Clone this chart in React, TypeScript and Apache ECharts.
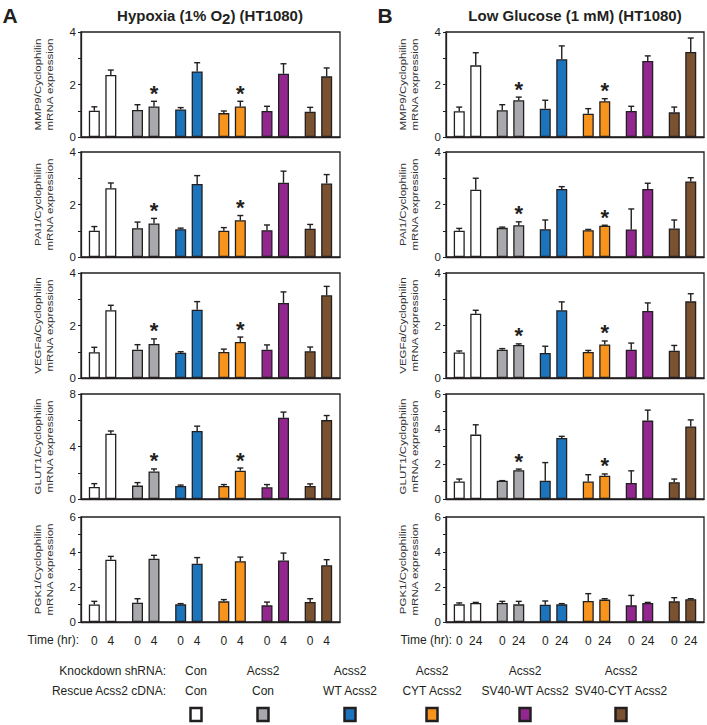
import React, { useEffect, useRef } from 'react';
import * as echarts from 'echarts';

// ---------- DATA ----------
const groups = ['Con/Con', 'Acss2/Con', 'Acss2/WT Acss2', 'Acss2/CYT Acss2', 'Acss2/SV40-WT Acss2', 'Acss2/SV40-CYT Acss2'];
const knockdown = ['Con', 'Acss2', 'Acss2', 'Acss2', 'Acss2', 'Acss2'];
const rescue = ['Con', 'Con', 'WT Acss2', 'CYT Acss2', 'SV40-WT Acss2', 'SV40-CYT Acss2'];
const genes = ['MMP9', 'PAI1', 'VEGFa', 'GLUT1', 'PGK1'];
const hypoxiaTimes = ['0', '4'];
const glucoseTimes = ['0', '24'];
const hypoxiaMax = [4, 4, 4, 8, 6];
const glucoseMax = [4, 4, 4, 6, 6];
const starGroups = [1, 3];
const starGenes = [0, 1, 2, 3];

// Hypoxia (1% O2): mean and error-bar top, time 0 / time 4
const hypMean0 = [
  [1.0, 1.03, 1.05, 0.91, 0.99, 0.96],
  [1.0, 1.1, 1.06, 1.0, 1.02, 1.08],
  [0.98, 1.08, 0.96, 0.99, 1.08, 1.02],
  [0.92, 1.02, 1.0, 1.0, 0.9, 1.0],
  [1.0, 1.1, 1.01, 1.18, 0.95, 1.14],
];
const hypTop0 = [
  [1.15, 1.23, 1.12, 0.99, 1.17, 1.13],
  [1.16, 1.33, 1.1, 1.12, 1.22, 1.24],
  [1.17, 1.27, 1.0, 1.1, 1.26, 1.18],
  [1.17, 1.25, 1.06, 1.1, 1.1, 1.15],
  [1.18, 1.33, 1.05, 1.28, 1.14, 1.33],
];
const hypMeanT = [
  [2.36, 1.16, 2.5, 1.16, 2.41, 2.31],
  [2.62, 1.28, 2.78, 1.4, 2.83, 2.8],
  [2.58, 1.3, 2.6, 1.37, 2.86, 3.15],
  [4.98, 2.1, 5.18, 2.16, 6.19, 6.01],
  [3.56, 3.62, 3.33, 3.47, 3.52, 3.24],
];
const hypTopT = [
  [2.55, 1.36, 2.83, 1.36, 2.79, 2.63],
  [2.82, 1.47, 3.1, 1.58, 3.27, 3.14],
  [2.77, 1.49, 2.91, 1.56, 3.28, 3.49],
  [5.18, 2.29, 5.55, 2.36, 6.62, 6.36],
  [3.75, 3.81, 3.68, 3.71, 3.94, 3.56],
];

// Low glucose (1 mM): mean and error-bar top, time 0 / time 24
const gluMean0 = [
  [0.98, 1.02, 1.08, 0.89, 0.99, 0.94],
  [1.0, 1.11, 1.06, 1.02, 1.05, 1.09],
  [0.97, 1.08, 0.95, 0.99, 1.08, 1.04],
  [1.0, 1.05, 1.05, 1.0, 0.92, 0.96],
  [1.01, 1.09, 0.99, 1.2, 0.95, 1.18],
];
const gluTop0 = [
  [1.14, 1.23, 1.4, 1.08, 1.17, 1.14],
  [1.09, 1.14, 1.41, 1.05, 1.83, 1.41],
  [1.03, 1.12, 1.21, 1.05, 1.33, 1.24],
  [1.14, 1.05, 2.08, 1.39, 1.61, 1.14],
  [1.09, 1.18, 1.2, 1.62, 1.52, 1.39],
];
const gluMeanT = [
  [2.73, 1.4, 2.96, 1.36, 2.9, 3.24],
  [2.56, 1.21, 2.59, 1.19, 2.59, 2.88],
  [2.45, 1.26, 2.58, 1.28, 2.55, 2.92],
  [3.68, 1.65, 3.49, 1.33, 4.48, 4.15],
  [1.09, 1.01, 1.01, 1.28, 1.09, 1.3],
];
const gluTopT = [
  [3.21, 1.52, 3.47, 1.46, 3.09, 3.77],
  [3.0, 1.34, 2.68, 1.21, 2.81, 3.02],
  [2.58, 1.3, 2.9, 1.41, 2.86, 3.21],
  [4.24, 1.71, 3.58, 1.43, 5.08, 4.52],
  [1.12, 1.18, 1.05, 1.33, 1.12, 1.33],
];

// ---------- STYLE ----------
const colors = ['#ffffff', '#a7a9ac', '#1c75bc', '#f7941d', '#92278f', '#7a5230'];
const ink = '#231f20';
const FONT = '"Liberation Sans", Arial, Helvetica, sans-serif';
const BAR_W = 11;
const BAR_GAP = 0.5;
const OFFSET = (BAR_W + BAR_W * BAR_GAP) / 2;
const colLeft = [81, 446];
const colWidth = [259, 258];
const rowTop = [32, 152, 273, 394, 517];
const rowHeight = 105;
const nameX = [44, 409];

function buildOption() {
  const grid: any[] = [];
  const xAxis: any[] = [];
  const yAxis: any[] = [];
  const series: any[] = [];
  const graphic: any[] = [];
  const panels = [
    { mean0: hypMean0, top0: hypTop0, meanT: hypMeanT, topT: hypTopT, max: hypoxiaMax, times: hypoxiaTimes },
    { mean0: gluMean0, top0: gluTop0, meanT: gluMeanT, topT: gluTopT, max: glucoseMax, times: glucoseTimes },
  ];
  panels.forEach((p, col) => {
    genes.forEach((gene, row) => {
      const idx = col * 5 + row;
      const max = p.max[row];
      const interval = max === 8 ? 2 : 1;
      const labelStep = max === 8 ? 4 : 2;
      grid.push({
        left: colLeft[col], top: rowTop[row], width: colWidth[col], height: rowHeight,
        show: true, borderColor: ink, borderWidth: 1.3, backgroundColor: 'transparent',
      });
      xAxis.push({
        type: 'category', gridIndex: idx, data: groups,
        axisTick: { show: false },
        axisLine: { lineStyle: { color: ink, width: 1.3 } },
        axisLabel: row === 4 ? {
          show: true, interval: 0, margin: 13,
          formatter: () => `{t|${p.times[0]}}{t|${p.times[1]}}`,
          rich: { t: { width: OFFSET * 2, align: 'center', fontSize: 12, color: ink, fontFamily: FONT } },
        } : { show: false },
      });
      yAxis.push({
        type: 'value', gridIndex: idx, min: 0, max, interval,
        splitLine: { show: false },
        axisLine: { show: true, lineStyle: { color: ink, width: 1.3 } },
        axisTick: { show: true, length: 3, lineStyle: { color: ink } },
        axisLabel: {
          margin: 5, fontSize: 11.5, color: ink, fontFamily: FONT,
          formatter: (v: number) => (v % labelStep === 0 ? String(v) : ''),
        },
      });
      // y-axis title (condensed, rotated)
      graphic.push({
        type: 'text', x: nameX[col], y: rowTop[row] + rowHeight / 2,
        rotation: Math.PI / 2, scaleY: 0.8,
        style: {
          text: `${gene}/Cyclophilin\nmRNA expression`, fontSize: 11.5, lineHeight: 16,
          fill: '#333', fontFamily: FONT, align: 'center', verticalAlign: 'middle',
        },
      });
      const mk = (vals: number[]) => vals.map((v, i) => ({ value: v, itemStyle: { color: colors[i] } }));
      series.push({
        type: 'bar', name: p.times[0], xAxisIndex: idx, yAxisIndex: idx,
        barWidth: BAR_W, barGap: `${BAR_GAP * 100}%`,
        itemStyle: { borderColor: ink, borderWidth: 1.3 },
        data: mk(p.mean0[row]),
      });
      series.push({
        type: 'bar', name: p.times[1], xAxisIndex: idx, yAxisIndex: idx,
        barWidth: BAR_W, barGap: `${BAR_GAP * 100}%`,
        itemStyle: { borderColor: ink, borderWidth: 1.3 },
        data: mk(p.meanT[row]),
      });
      const errData: any[] = [];
      groups.forEach((_, g) => {
        errData.push([g, p.top0[row][g], p.mean0[row][g], 0, 0]);
        const star = starGenes.includes(row) && starGroups.includes(g) ? 1 : 0;
        errData.push([g, p.topT[row][g], p.meanT[row][g], 1, star]);
      });
      series.push({
        type: 'custom', xAxisIndex: idx, yAxisIndex: idx, z: 10, clip: false,
        data: errData,
        renderItem: (params: any, api: any) => {
          const g = api.value(0), top = api.value(1), mean = api.value(2), s = api.value(3), star = api.value(4);
          const base = api.coord([g, mean]);
          const tp = api.coord([g, top]);
          const x = base[0] + (s === 0 ? -OFFSET : OFFSET);
          const children: any[] = [
            { type: 'line', shape: { x1: x, y1: base[1], x2: x, y2: tp[1] }, style: { stroke: ink, lineWidth: 1.4 } },
            { type: 'line', shape: { x1: x - 3, y1: tp[1], x2: x + 3, y2: tp[1] }, style: { stroke: ink, lineWidth: 1.4 } },
          ];
          if (star) {
            children.push({
              type: 'text', x, y: tp[1] - 8,
              style: { text: '*', fontSize: 22, fontWeight: 'bold', fill: ink, align: 'center', verticalAlign: 'middle', fontFamily: FONT },
            });
          }
          return { type: 'group', children };
        },
      });
    });
  });

  const txt = (x: number, y: number, text: string, opts: any = {}) => ({
    type: 'text', x, y,
    style: { text, fontSize: 12, fill: ink, fontFamily: FONT, align: 'center', verticalAlign: 'middle', ...opts },
  });
  graphic.push(txt(10, 15, 'A', { fontSize: 21, fontWeight: 'bold' }));
  graphic.push(txt(385, 15, 'B', { fontSize: 21, fontWeight: 'bold' }));
  graphic.push({
    type: 'text', x: 210, y: 15,
    style: {
      text: '{a|Hypoxia (1% O}{b|2}{a|) (HT1080)}', align: 'center', verticalAlign: 'middle',
      rich: {
        a: { fontSize: 15, fontWeight: 'bold', fill: ink, fontFamily: FONT },
        b: { fontSize: 15, fontWeight: 'bold', fill: ink, fontFamily: FONT, padding: [6, 0, 0, 0] },
      },
    },
  });
  graphic.push(txt(575, 15, 'Low Glucose (1 mM) (HT1080)', { fontSize: 15, fontWeight: 'bold' }));
  graphic.push(txt(79, 640, 'Time (hr):', { align: 'right' }));
  graphic.push(txt(452, 640, 'Time (hr):', { align: 'right' }));
  graphic.push(txt(166, 671, 'Knockdown shRNA:', { align: 'right' }));
  graphic.push(txt(166, 691, 'Rescue Acss2 cDNA:', { align: 'right' }));
  const colCenters = [196, 263, 350, 432, 525, 621];
  colCenters.forEach((cx, i) => {
    graphic.push(txt(cx, 671, knockdown[i]));
    graphic.push(txt(cx, 691, rescue[i]));
    graphic.push({
      type: 'rect', shape: { x: cx - 5.5, y: 708, width: 11, height: 13 },
      style: { fill: colors[i], stroke: ink, lineWidth: 2.5 },
    });
  });

  return {
    animation: false,
    textStyle: { fontFamily: FONT },
    grid, xAxis, yAxis, series, graphic,
  };
}

export default function App() {
  const ref = useRef<HTMLDivElement>(null);
  useEffect(() => {
    if (!ref.current) return;
    const chart = echarts.init(ref.current, null, { renderer: 'svg' });
    chart.setOption(buildOption() as any);
    return () => chart.dispose();
  }, []);
  return (
    <div
      ref={ref}
      style={{ position: 'absolute', left: 0, top: 0, width: 707, height: 725, background: '#fff' }}
    />
  );
}
